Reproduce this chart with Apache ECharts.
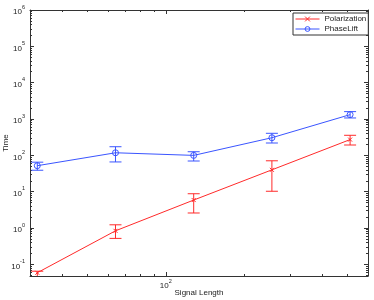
<!DOCTYPE html>
<html>
<head>
<meta charset="utf-8">
<script src="https://cdn.jsdelivr.net/npm/echarts@6/dist/echarts.min.js"></script>
<style>
html,body{margin:0;padding:0;background:#fff;}
#chart{width:374px;height:300px;}
</style>
</head>
<body>
<div id="chart"></div>
<script>
// ---- data ----
const signalLength = [32, 64, 128, 256, 512];
const polarizationMean = [0.059, 0.84, 5.9, 40, 272];
const polarizationLow  = [0.04, 0.52, 2.6, 10.3, 193];
const polarizationHigh = [0.065, 1.23, 8.8, 71, 357];
const phaseLiftMean = [52, 118, 100, 306, 1320];
const phaseLiftLow  = [39, 66, 70, 219, 1070];
const phaseLiftHigh = [65, 173, 126, 405, 1600];
const yTickExponents = [-1, 0, 1, 2, 3, 4, 5, 6];
const xTickLabels = [100];
const seriesNames = ['Polarization', 'PhaseLift'];

// ---- axis extents ----
const xMinVal = 30, xMaxVal = 600;
const yMinVal = 0.048, yMaxVal = 1e6;

const L = Math.log10;
const RED = '#ff2a2a', BLUE = '#3a55ff', AX = '#333';

// minor tick positions (log space)
const xMinor = [];
for (let k = 1; k <= 2; k++) for (let m = 2; m <= 9; m++) {
  const v = m * Math.pow(10, k);
  if (v > xMinVal && v < xMaxVal) xMinor.push(L(v));
}
const yMinor = [];
for (let k = -2; k <= 5; k++) for (let m = 2; m <= 9; m++) {
  const v = m * Math.pow(10, k);
  if (v > yMinVal && v < yMaxVal) yMinor.push(L(v));
}
const xMajor = xTickLabels.map(L);

function pts(xs, ys) { return xs.map((x, i) => [L(x), L(ys[i])]); }
function bars(xs, lo, hi) { return xs.map((x, i) => [L(x), L(lo[i]), L(hi[i])]); }

function errRender(color) {
  return function (params, api) {
    const x = api.value(0);
    const a = api.coord([x, api.value(1)]);
    const b = api.coord([x, api.value(2)]);
    const hw = 6;
    const st = { stroke: color, lineWidth: 1 };
    return {
      type: 'group',
      children: [
        { type: 'line', shape: { x1: a[0], y1: a[1], x2: b[0], y2: b[1] }, style: st },
        { type: 'line', shape: { x1: a[0] - hw, y1: a[1], x2: a[0] + hw, y2: a[1] }, style: st },
        { type: 'line', shape: { x1: b[0] - hw, y1: b[1], x2: b[0] + hw, y2: b[1] }, style: st }
      ]
    };
  };
}

const richSup = {
  b: { fontSize: 8, color: '#222', fontFamily: 'Liberation Sans', verticalAlign: 'bottom', lineHeight: 12 },
  s: { fontSize: 5.5, color: '#222', fontFamily: 'Liberation Sans', verticalAlign: 'top', lineHeight: 12 }
};
const supFmt = v => '{b|10}{s|' + Math.round(v) + '}';

function xAxisCfg(pos, major, main) {
  const labelled = main && major && pos === 'bottom';
  return {
    type: 'value', position: pos, min: L(xMinVal), max: L(xMaxVal),
    axisLine: { show: main, onZero: false, lineStyle: { color: AX, width: 1 } },
    axisTick: { show: true, inside: true, length: major ? 4 : 2, customValues: major ? xMajor : xMinor, lineStyle: { color: AX } },
    axisLabel: labelled ? { show: true, customValues: xMajor, formatter: supFmt, rich: richSup, margin: 2 } : { show: false },
    splitLine: { show: false },
    name: labelled ? 'Signal Length' : '',
    nameLocation: 'middle', nameGap: 13, nameMoveOverlap: false,
    nameTextStyle: { fontSize: 8, color: '#222', fontFamily: 'Liberation Sans' }
  };
}
function yAxisCfg(pos, major, main) {
  const labelled = main && major && pos === 'left';
  return {
    type: 'value', position: pos, min: L(yMinVal), max: L(yMaxVal),
    axisLine: { show: main, onZero: false, lineStyle: { color: AX, width: 1 } },
    axisTick: { show: true, inside: true, length: major ? 4 : 2, customValues: major ? yTickExponents : yMinor, lineStyle: { color: AX } },
    axisLabel: labelled ? { show: true, customValues: yTickExponents, formatter: supFmt, rich: richSup, margin: 5 } : { show: false },
    splitLine: { show: false },
    name: labelled ? 'Time' : '',
    nameLocation: 'middle', nameGap: 20, nameMoveOverlap: false,
    nameTextStyle: { fontSize: 8, color: '#222', fontFamily: 'Liberation Sans' }
  };
}

const chart = echarts.init(document.getElementById('chart'), null, { renderer: 'canvas' });
chart.setOption({
  animation: false,
  backgroundColor: '#fff',
  textStyle: { fontFamily: 'Liberation Sans' },
  grid: { left: 30, right: 6, top: 10, bottom: 24, containLabel: false, outerBoundsMode: 'none' },
  xAxis: [
    xAxisCfg('bottom', true, true),
    xAxisCfg('bottom', false, false),
    xAxisCfg('top', true, true),
    xAxisCfg('top', false, false)
  ],
  yAxis: [
    yAxisCfg('left', true, true),
    yAxisCfg('left', false, false),
    yAxisCfg('right', true, true),
    yAxisCfg('right', false, false)
  ],
  legend: {
    data: seriesNames,
    orient: 'vertical',
    left: 293, top: 13,
    padding: [2, 2, 2, 2],
    itemGap: 2,
    itemWidth: 24, itemHeight: 6,
    backgroundColor: '#fff',
    borderColor: '#333', borderWidth: 1, borderRadius: 0,
    lineStyle: { width: 1 },
    itemStyle: { borderWidth: 1 },
    textStyle: { fontSize: 8, color: '#222', fontFamily: 'Liberation Sans' }
  },
  series: [
    {
      name: seriesNames[0], type: 'line', xAxisIndex: 0, yAxisIndex: 0,
      data: pts(signalLength, polarizationMean),
      symbol: 'path://M0,0L10,10M10,0L0,10', symbolSize: 4,
      itemStyle: { color: RED, borderColor: RED, borderWidth: 1 },
      lineStyle: { color: RED, width: 1 }, z: 3
    },
    {
      name: seriesNames[1], type: 'line', xAxisIndex: 0, yAxisIndex: 0,
      data: pts(signalLength, phaseLiftMean),
      symbol: 'circle', symbolSize: 6,
      itemStyle: { color: 'rgba(0,0,0,0)', borderColor: BLUE, borderWidth: 1 },
      lineStyle: { color: BLUE, width: 1 }, z: 3
    },
    {
      name: seriesNames[0] + ' err', type: 'custom', xAxisIndex: 0, yAxisIndex: 0,
      data: bars(signalLength, polarizationLow, polarizationHigh),
      encode: { x: 0, y: [1, 2] }, clip: true,
      renderItem: errRender(RED), z: 2
    },
    {
      name: seriesNames[1] + ' err', type: 'custom', xAxisIndex: 0, yAxisIndex: 0,
      data: bars(signalLength, phaseLiftLow, phaseLiftHigh),
      encode: { x: 0, y: [1, 2] }, clip: true,
      renderItem: errRender(BLUE), z: 2
    }
  ]
});
</script>
</body>
</html>
